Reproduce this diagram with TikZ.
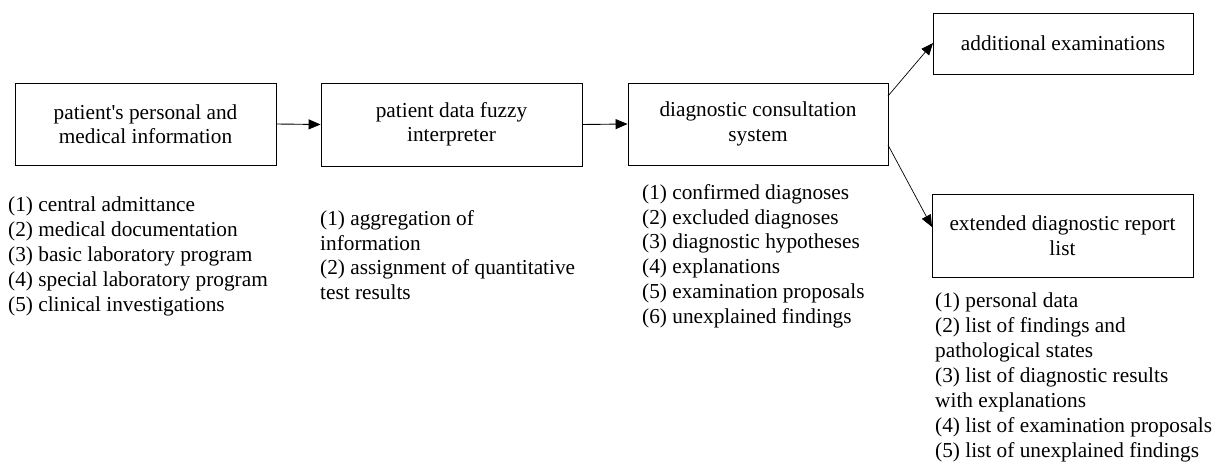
\documentclass[tikz,border=0pt]{standalone}
\usepackage{fontspec}
\setmainfont{Liberation Serif}
\usetikzlibrary{arrows.meta}
\tikzset{
  box/.style={draw, line width=0.9pt, align=center, inner sep=0pt, font=\fontsize{21.3}{24.5}\selectfont},
  lst/.style={anchor=north west, align=left, inner sep=0pt, font=\fontsize{21.3}{24.9}\selectfont},
  arr/.style={line width=0.9pt, -{Triangle[length=12pt,width=10pt]}},
  thin arr/.style={line width=0.7pt, -{Triangle[length=12pt,width=10pt]}}
}
\begin{document}
\begin{tikzpicture}[x=1pt,y=-1pt]
\useasboundingbox (0,0) rectangle (1216,465);
\node[box, minimum width=261pt, minimum height=82pt] (b1) at (145.5,124) {patient\textquotesingle s personal and\\medical information};
\node[box, minimum width=261pt, minimum height=83pt] (b2) at (451.5,124.5) {patient data fuzzy\\interpreter};
\node[box, minimum width=260pt, minimum height=82pt] (b3) at (758,124) {diagnostic consultation\\system};
\node[box, minimum width=260pt, minimum height=61pt] (b4) at (1063,43.5) {additional examinations};
\node[box, minimum width=261pt, minimum height=83pt] (b5) at (1062.5,235.5) {extended diagnostic report\\list};

\draw[arr] (b1.east) -- (b2.west);
\draw[arr] (b2.east) -- (b3.west);
\coordinate (s4) at (888,96);
\coordinate (e4) at (933,43);
\coordinate (s5) at (888,145);
\coordinate (e5) at (932,227);
\draw[thin arr] (s4) -- (e4);
\draw[thin arr] (s5) -- (e5);

\node[lst] (l1) at (8,197) {(1) central admittance\\(2) medical documentation\\(3) basic laboratory program\\(4) special laboratory program\\(5) clinical investigations};
\node[lst] (l2) at (320,210) {(1) aggregation of\\information\\(2) assignment of quantitative\\test results};
\node[lst] (l3) at (642,184) {(1) confirmed diagnoses\\(2) excluded diagnoses\\(3) diagnostic hypotheses\\(4) explanations\\(5) examination proposals\\(6) unexplained findings};
\node[lst] (l5) at (935,293) {(1) personal data\\(2) list of findings and\\pathological states\\(3) list of diagnostic results\\with explanations\\(4) list of examination proposals\\(5) list of unexplained findings};
\end{tikzpicture}
\end{document}
